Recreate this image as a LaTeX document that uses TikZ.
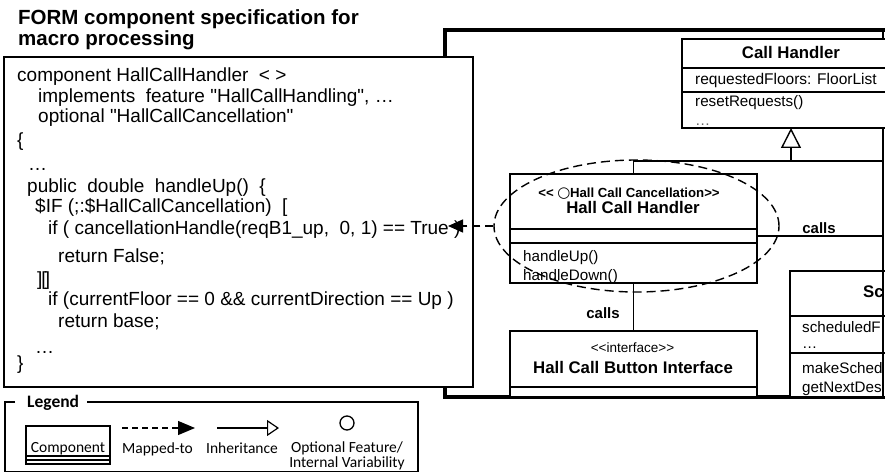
\documentclass[tikz,border=0pt]{standalone}
\usepackage{fontspec}
\setmainfont{Liberation Sans}[Ligatures=TeXOff]
\newfontfamily\legendfont{Carlito}
\newfontfamily\symfont{DejaVu Sans}
\usetikzlibrary{shapes.geometric,arrows.meta}
\tikzset{
  umlbox/.style={draw, line width=1.4pt, inner sep=0pt, outer sep=0pt, fill=white},
  conn/.style={line width=1.4pt},
  codeline/.style={anchor=base west, inner sep=0pt, font=\fontsize{19}{22}\selectfont},
  attr/.style={anchor=base west, inner sep=0pt, font=\fontsize{15.2}{18}\selectfont},
  cname/.style={anchor=base, inner sep=0pt, font=\bfseries\fontsize{16.8}{20}\selectfont},
  lbl/.style={anchor=base, inner sep=0pt, font=\bfseries\fontsize{15}{18}\selectfont},
  legtxt/.style={anchor=base, inner sep=0pt, font=\legendfont\fontsize{15.5}{18}\selectfont},
  legline/.style={line width=1.2pt},
}
\begin{document}
\begin{tikzpicture}[x=1pt,y=-1pt]
\useasboundingbox (0,0) rectangle (885,473);
\begin{scope}
\clip (0,0) rectangle (885,473);

% title
\node[anchor=base west, inner sep=0pt, font=\bfseries\fontsize{20.5}{22}\selectfont] (title1) at (18,25) {FORM component specification for};
\node[anchor=base west, inner sep=0pt, font=\bfseries\fontsize{20.5}{22}\selectfont] (title2) at (18,46) {macro processing};

% right panel
\node[draw, line width=4pt, inner sep=0pt, outer sep=0pt, minimum width=470pt, minimum height=367pt] (panel) at (680,213.5) {};
\draw[conn] (883,30) -- (883,397);

% Call Handler
\node[umlbox, minimum width=218pt, minimum height=89pt] (ch) at (791,83.5) {};
\draw[conn] (ch.west |- 0,68) -- (ch.east |- 0,68);
\draw[conn] (ch.west |- 0,92) -- (ch.east |- 0,92);
\node[cname] (chname) at (791,59) {Call Handler};
\node[attr, font=\fontsize{15.5}{18}\selectfont] (chattr) at (695,85) {requestedFloors: FloorList};
\node[attr] (chop1) at (695,107) {resetRequests()};
\node[attr, text=black!60] (chop2) at (695,126) {…};

% Hall Call Handler
\node[umlbox, minimum width=247pt, minimum height=109pt] (hch) at (633.5,228.5) {};
\draw[conn] (hch.west |- 0,229) -- (hch.east |- 0,229);
\draw[conn] (hch.west |- 0,243) -- (hch.east |- 0,243);
\node[anchor=base, inner sep=0pt, font=\bfseries\fontsize{13.2}{15}\selectfont] (hchst) at (629,197) {<\kern0pt< {\symfont\fontsize{15}{16}\selectfont\raisebox{-0.5pt}{○}}\kern-0.5pt Hall Call Cancellation>\kern0pt>};
\node[cname] (hchname) at (633,213) {Hall Call Handler};
\node[attr] (hchop1) at (523,261) {handleUp()};
\node[attr] (hchop2) at (523,280) {handleDown()};

% Hall Call Button Interface
\node[umlbox, minimum width=247pt, minimum height=66pt] (hcbi) at (633.5,364) {};
\draw[conn] (hcbi.west |- 0,387) -- (hcbi.east |- 0,387);
\node[anchor=base, inner sep=0pt, font=\fontsize{13.5}{16}\selectfont] (hcbist) at (632.5,352) {<\kern0pt<interface>\kern0pt>};
\node[cname] (hcbiname) at (633,373) {Hall Call Button Interface};

% Scheduler (cut off)
\node[umlbox, minimum width=110pt, minimum height=126pt] (sch) at (845,334) {};
\draw[conn] (sch.west |- 0,316) -- (sch.east |- 0,316);
\draw[conn] (sch.west |- 0,353) -- (sch.east |- 0,353);
\draw[conn] (883,271) -- (883,397);
\node[cname, anchor=base west] (schname) at (863,297) {Sc};
\node[attr] (schattr) at (802,332) {scheduledF};
\node[attr] (schdots) at (802,348) {…};
\node[attr] (schop1) at (802,373) {makeSched};
\node[attr] (schop2) at (802,392) {getNextDes};

% connectors in panel
\coordinate (inhJ) at (791,161);
\coordinate (inhR) at (883,161);
\draw[conn] (hch.north) |- (inhR);
\draw[conn, -{Triangle[open, length=20pt, width=20pt]}] (inhJ) -- (ch.south);
\coordinate (callsR) at (883,236);
\draw[conn] (hch.east |- callsR) -- (callsR);
\node[lbl] (calls1) at (819,233) {calls};
\draw[conn] (hch.south) -- (hcbi.north);
\node[lbl] (calls2) at (603,318) {calls};

% code box
\node[draw, line width=1.8pt, fill=white, inner sep=0pt, outer sep=0pt, minimum width=469pt, minimum height=330pt] (codebox) at (238.5,222) {};
\node[codeline] (c1) at (17,82) {component HallCallHandler \ < >};
\node[codeline] (c2) at (38,103) {implements \ feature "HallCallHandling", …};
\node[codeline] (c3) at (38,123) {optional "HallCallCancellation"};
\node[codeline] (c4) at (17,147) {\{};
\node[codeline] (c5) at (28,171) {…};
\node[codeline] (c6) at (27,192) {public \ double \ handleUp() \ \{};
\node[codeline] (c7) at (35,212) {\$IF (;:\$HallCallCancellation) \ [};
\node[codeline] (c8) at (48,234) {if ( cancellationHandle(reqB1\_up, \ 0, 1) == True )};
\node[codeline] (c9) at (58,262) {return False;};
\node[codeline] (c10) at (37,285) {]\kern-1pt[\kern-2pt]};
\node[codeline] (c11) at (48,305) {if (currentFloor == 0 \&\& currentDirection == Up )};
\node[codeline] (c12) at (58,327) {return base;};
\node[codeline] (c13) at (35,353) {…};
\node[codeline] (c14) at (17,369) {\}};

% dashed ellipse and mapped-to arrow
\node[ellipse, draw, line width=1.4pt, dash pattern=on 9pt off 5pt, minimum width=285pt, minimum height=132pt, inner sep=0pt] (ell) at (636.5,226) {};
\coordinate (mapTip) at (448,226);
\draw[conn, dash pattern=on 8pt off 5pt, -{Triangle[length=15pt, width=13pt]}] (ell.west) -- (mapTip);

% legend
\draw[legline] (15,402) -- (5,402) -- (5,471.5) -- (418,471.5) -- (418,402) -- (87,402);
\node[anchor=base west, inner sep=0pt, font=\legendfont\bfseries\fontsize{17.5}{20}\selectfont] (legtitle) at (27,407) {Legend};
\node[draw, line width=1.2pt, inner sep=0pt, outer sep=0pt, minimum width=84pt, minimum height=38pt] (legcomp) at (68,445) {};
\draw[legline] (legcomp.west |- 0,456) -- (legcomp.east |- 0,456);
\draw[legline] (legcomp.west |- 0,460) -- (legcomp.east |- 0,460);
\node[legtxt] (legcompt) at (68,452) {Component};
\coordinate (lmA) at (122,428);
\coordinate (lmB) at (195,428);
\draw[legline, dash pattern=on 6pt off 4pt, -{Triangle[length=17pt, width=14pt]}] (lmA) -- (lmB);
\node[legtxt] (legmap) at (157.5,453) {Mapped-to};
\coordinate (liA) at (217,428);
\coordinate (liB) at (279,428);
\draw[legline, -{Triangle[open, length=12pt, width=16pt]}] (liA) -- (liB);
\node[legtxt] (leginh) at (242,453) {Inheritance};
\node[draw, circle, line width=1.3pt, minimum size=14pt, inner sep=0pt] (legcirc) at (347,423) {};
\node[legtxt] (legopt1) at (347,452) {Optional Feature/};
\node[legtxt] (legopt2) at (347,467) {Internal Variability};
\end{scope}
\end{tikzpicture}
\end{document}
